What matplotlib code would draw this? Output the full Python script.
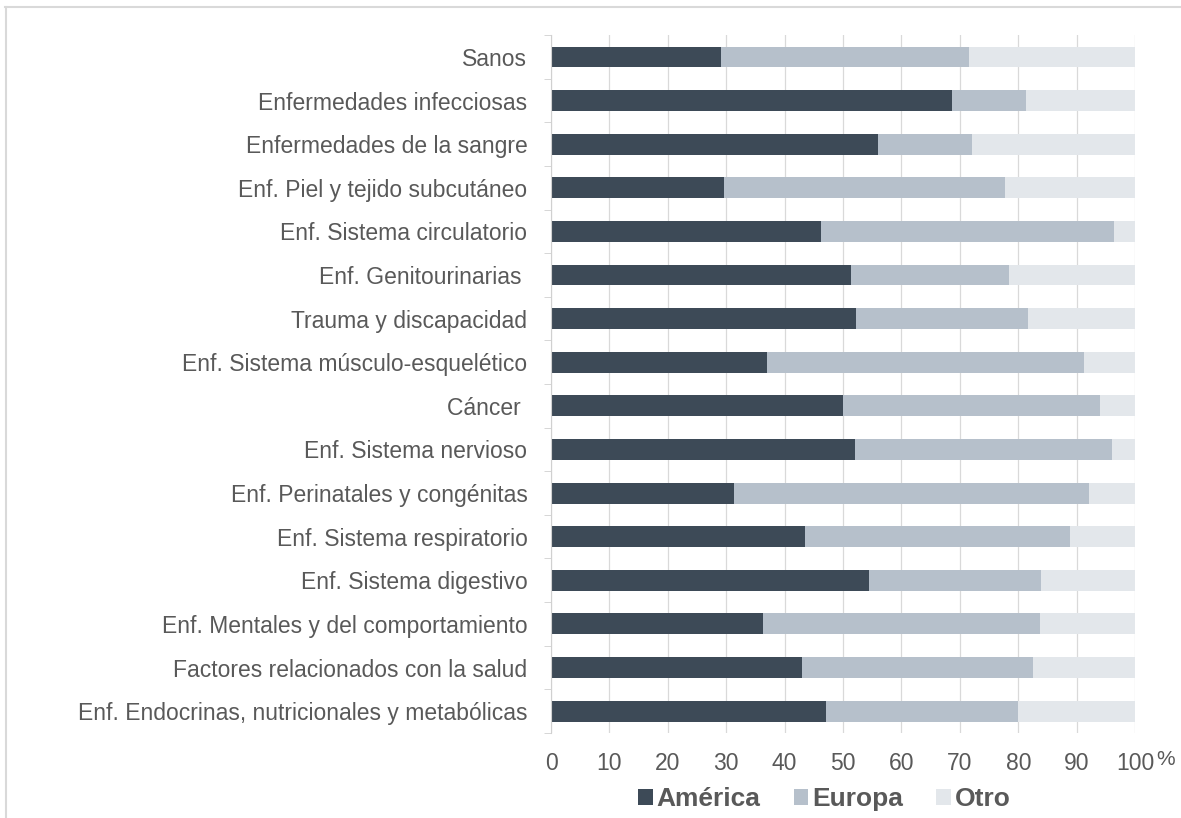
import matplotlib.pyplot as plt
from matplotlib.lines import Line2D
from matplotlib.patches import Patch

plt.rcParams['font.family'] = ['Liberation Sans', 'DejaVu Sans']

# ------------------------------
# Data: share of each region per disease group (%)
# ------------------------------
categories = [
    "Sanos",
    "Enfermedades infecciosas",
    "Enfermedades de la sangre",
    "Enf. Piel y tejido subcutáneo",
    "Enf. Sistema circulatorio",
    "Enf. Genitourinarias ",
    "Trauma y discapacidad",
    "Enf. Sistema músculo-esquelético",
    "Cáncer ",
    "Enf. Sistema nervioso",
    "Enf. Perinatales y congénitas",
    "Enf. Sistema respiratorio",
    "Enf. Sistema digestivo",
    "Enf. Mentales y del comportamiento",
    "Factores relacionados con la salud",
    "Enf. Endocrinas, nutricionales y metabólicas",
]
america = [29.1, 68.7, 55.9, 29.6, 46.3, 51.3, 52.2, 37.0, 50.0, 52.0, 31.3, 43.4, 54.5, 36.3, 43.0, 47.0]
europa = [42.5, 12.6, 16.2, 48.2, 50.1, 27.1, 29.5, 54.3, 44.0, 44.0, 60.8, 45.4, 29.4, 47.4, 39.6, 33.0]
otro = [100 - a - e for a, e in zip(america, europa)]

series_names = ["América", "Europa", "Otro"]
colors = ["#3d4a57", "#b6c0cb", "#e3e7eb"]
text_color = "#595959"

# ------------------------------
# Stacked horizontal bars
# ------------------------------
fig = plt.figure(figsize=(11.81, 8.18), dpi=100)
ax = fig.add_axes([0.4666, 0.104, 0.4945, 0.853])

ypos = list(range(len(categories)))
left = [0.0] * len(categories)
for vals, col in zip([america, europa, otro], colors):
    ax.barh(ypos, vals, left=left, height=0.48, color=col, zorder=2)
    left = [l + v for l, v in zip(left, vals)]

ax.set_xlim(0, 100)
ax.set_ylim(len(categories) - 0.5, -0.5)
ax.set_xticks(range(0, 101, 10))
ax.set_xticklabels([str(v) for v in range(0, 101, 10)])
ax.set_yticks(ypos)
ax.set_yticklabels(categories)
ax.set_yticks([i - 0.5 for i in range(len(categories) + 1)], minor=True)

ax.grid(axis='x', color='#d9d9d9', linewidth=0.9, zorder=0)
for s in ['top', 'right', 'bottom']:
    ax.spines[s].set_visible(False)
ax.spines['left'].set_color('#d0d0d0')

ax.tick_params(axis='y', which='major', length=0, pad=17, labelsize=16.5, labelcolor=text_color)
ax.tick_params(axis='y', which='minor', length=5, color='#d0d0d0')
ax.tick_params(axis='x', length=0, pad=14, labelsize=16.5, labelcolor=text_color)

# unit sign next to the last tick label
ax.text(1.037, -0.0375, "%", transform=ax.transAxes, fontsize=15, color=text_color,
        ha='left', va='center')

# Legend below the axis
handles = [Patch(facecolor=c, edgecolor='none') for c in colors]
leg = fig.legend(handles, series_names, loc='center', bbox_to_anchor=(0.698, 0.023),
                 ncol=3, frameon=False, handlelength=0.55, handleheight=0.6,
                 handletextpad=0.15, columnspacing=1.25,
                 prop={'size': 19, 'weight': 'bold'})
for t in leg.get_texts():
    t.set_color(text_color)

# Thin frame lines at the top and left edge
fig.add_artist(Line2D([0.004, 1.0], [0.991, 0.991], color='#d9d9d9', linewidth=1.5))
fig.add_artist(Line2D([0.005, 0.005], [0.0, 0.991], color='#d9d9d9', linewidth=1.5))

plt.savefig("out.png", dpi=100)
